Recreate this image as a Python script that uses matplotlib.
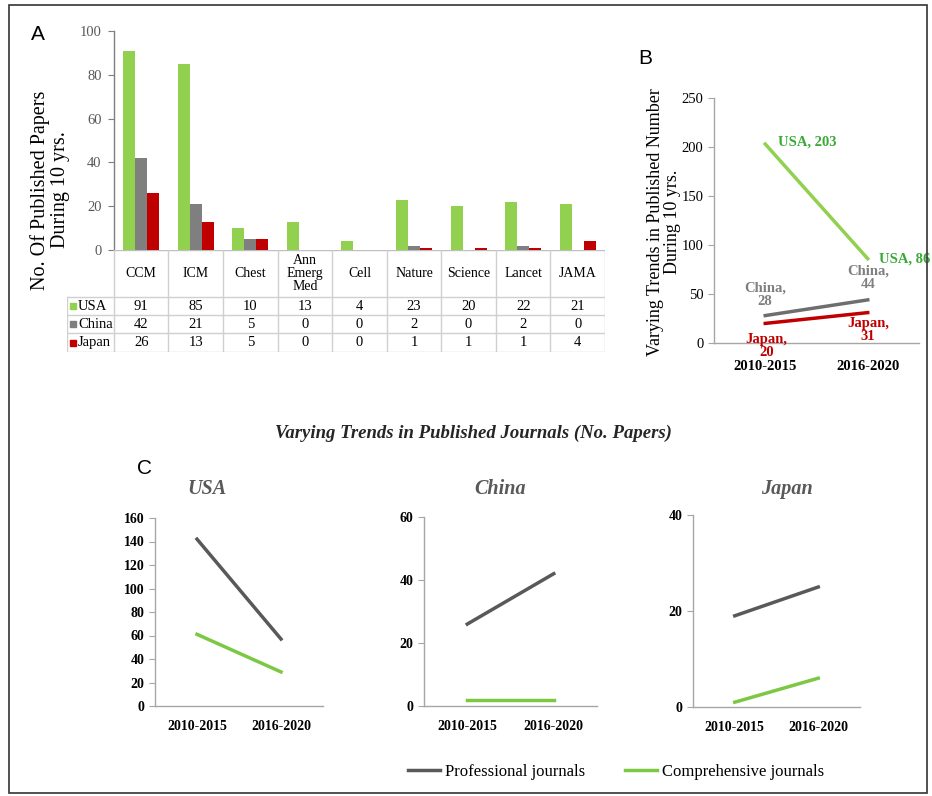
import matplotlib.pyplot as plt
from matplotlib.lines import Line2D
from matplotlib.patches import Rectangle

W, H = 932, 796

# panel A data
journals = ['CCM', 'ICM', 'Chest', 'Ann\nEmerg\nMed', 'Cell', 'Nature', 'Science', 'Lancet', 'JAMA']
usa = [91, 85, 10, 13, 4, 23, 20, 22, 21]
china = [42, 21, 5, 0, 0, 2, 0, 2, 0]
japan = [26, 13, 5, 0, 0, 1, 1, 1, 4]

# panel B data
periods = ['2010-2015', '2016-2020']
total_usa = [203, 86]
total_china = [28, 44]
total_japan = [20, 31]

# panel C data
prof_usa = [142, 57]
comp_usa = [61, 29]
prof_china = [26, 42]
comp_china = [2, 2]
prof_japan = [19, 25]
comp_japan = [1, 6]

GREEN = '#92d050'
GRAY = '#7f7f7f'
RED = '#c00000'
DGRAY = '#595959'
LGREEN = '#7cc843'
SPINE = '#a6a6a6'

plt.rcParams['font.family'] = ['Liberation Serif', 'DejaVu Serif']

fig = plt.figure(figsize=(W / 100, H / 100), dpi=100)


def px_axes(l, t, r, b):
    return fig.add_axes([l / W, 1 - b / H, (r - l) / W, (b - t) / H])


def fig_text(x, y, s, **kw):
    return fig.text(x / W, 1 - y / H, s, **kw)


def style(ax, color=SPINE):
    for s in ['top', 'right']:
        ax.spines[s].set_visible(False)
    for s in ['left', 'bottom']:
        ax.spines[s].set_color(color)
        ax.spines[s].set_linewidth(1)
    ax.tick_params(axis='y', length=4, color=color, direction='out')
    ax.tick_params(axis='x', length=0)


# frame
fig.patches.append(Rectangle((9 / W, 1 - 793 / H), 918 / W, 788 / H,
                             transform=fig.transFigure, fill=False,
                             ec='#333333', lw=1.2))

# ---------- Panel A ----------
axA = px_axes(114, 31, 605, 250)
x = list(range(len(journals)))
bw = 0.22
axA.bar([i - bw for i in x], usa, bw, color=GREEN)
axA.bar(x, china, bw, color=GRAY)
axA.bar([i + bw for i in x], japan, bw, color=RED)
axA.set_xlim(-0.5, 8.5)
axA.set_ylim(0, 100)
axA.set_yticks(range(0, 101, 20))
axA.set_xticks([])
style(axA, '#7f7f7f')
axA.spines['bottom'].set_visible(False)
axA.tick_params(axis='y', labelsize=10.5, labelcolor=DGRAY, pad=5)

# table under panel A
axT = px_axes(67, 250, 605, 352)
axT.set_xlim(-1.36, 8.5)
axT.set_ylim(102, 0)
axT.axis('off')
lc = '#d0d0d0'
rows = [0, 47, 65, 83, 102]
axT.plot([-0.5, 8.5], [0, 0], color='#bfbfbf', lw=1)
for yv in rows[1:]:
    axT.plot([-1.36, 8.5], [yv, yv], color=lc, lw=1)
for i in range(10):
    axT.plot([i - 0.5, i - 0.5], [0, 102], color=lc, lw=1)
axT.plot([-1.36, -1.36], [47, 102], color=lc, lw=1)
for i, name in enumerate(journals):
    axT.text(i, 23.5, name, ha='center', va='center', fontsize=10,
             linespacing=1.05)
series = [('USA', usa, GREEN), ('China', china, GRAY), ('Japan', japan, RED)]
for r, (label, vals, col) in enumerate(series):
    yc = (rows[r + 1] + rows[r + 2]) / 2
    axT.plot([-1.25], [yc], marker='s', ms=5, color=col, ls='none')
    axT.text(-1.16, yc, label, ha='left', va='center', fontsize=10.5)
    for i, v in enumerate(vals):
        axT.text(i, yc, str(v), ha='center', va='center', fontsize=10.5)

fig_text(50, 190, 'No. Of Published Papers\nDuring 10 yrs.', rotation=90,
         ha='center', va='center', fontsize=14.5, multialignment='center',
         linespacing=1.1)
fig_text(38, 34, 'A', fontsize=15, family='Liberation Sans', ha='center', va='center')

# ---------- Panel B ----------
axB = px_axes(714, 98, 919, 343)
xb = [0, 1]
axB.plot(xb, total_usa, color=GREEN, lw=2.5)
axB.plot(xb, total_china, color='#6e6e6e', lw=2.5)
axB.plot(xb, total_japan, color=RED, lw=2.5)
axB.set_xlim(-0.5, 1.5)
axB.set_ylim(0, 250)
axB.set_yticks(range(0, 251, 50))
axB.set_xticks(xb)
axB.set_xticklabels(periods, fontweight='bold')
style(axB)
axB.tick_params(axis='both', labelsize=10.5)
axB.tick_params(axis='x', pad=12)


def lab(ax, xy, s, dx, dy, col, ha):
    ax.annotate(s, xy=xy, xytext=(dx, dy), textcoords='offset pixels',
                ha=ha, va='center', color=col, fontsize=10.5, fontweight='bold',
                linespacing=1.0)


lab(axB, (0, total_usa[0]), 'USA, %d' % total_usa[0], 13, 2, '#3aa935', 'left')
lab(axB, (1, total_usa[1]), 'USA, %d' % total_usa[1], 11, 0, '#3aa935', 'left')
lab(axB, (0, total_china[0]), 'China,\n%d' % total_china[0], 0, 21, GRAY, 'center')
lab(axB, (1, total_china[1]), 'China,\n%d' % total_china[1], 0, 22, GRAY, 'center')
lab(axB, (0, total_japan[0]), 'Japan,\n%d' % total_japan[0], 1, -23, RED, 'center')
lab(axB, (1, total_japan[1]), 'Japan,\n%d' % total_japan[1], 0, -17, RED, 'center')

fig_text(664, 222, 'Varying Trends in Published Number\nDuring 10 yrs.', rotation=90,
         ha='center', va='center', fontsize=13, multialignment='center',
         linespacing=1.05)
fig_text(645, 58, 'B', fontsize=15, family='Liberation Sans', ha='center', va='center')

# ---------- Panel C ----------
fig_text(473, 433, 'Varying Trends in Published Journals (No. Papers)',
         ha='center', va='center', fontsize=13.5, fontweight='bold',
         style='italic', color='#262626')
fig_text(145, 468, 'C', fontsize=15, family='Liberation Sans', ha='center', va='center')

panels = [
    ('USA', prof_usa, comp_usa, (155, 518, 323, 706), 160, 20, 207),
    ('China', prof_china, comp_china, (424, 517, 597, 706), 60, 20, 500),
    ('Japan', prof_japan, comp_japan, (693, 515, 860, 707), 40, 20, 787),
]
for name, prof, comp, box, top, step, tx in panels:
    ax = px_axes(*box)
    ax.plot(xb, prof, color=DGRAY, lw=2.5)
    ax.plot(xb, comp, color=LGREEN, lw=2.5)
    ax.set_xlim(-0.5, 1.5)
    ax.set_ylim(0, top)
    ax.set_yticks(range(0, top + 1, step))
    ax.set_xticks(xb)
    ax.set_xticklabels(periods, fontweight='bold')
    for t in ax.get_yticklabels():
        t.set_fontweight('bold')
    style(ax)
    ax.tick_params(axis='both', labelsize=10)
    ax.tick_params(axis='x', pad=10)
    fig_text(tx, 489, name, ha='center', va='center', fontsize=14.5,
             fontweight='bold', style='italic', color=DGRAY)

handles = [Line2D([], [], color=DGRAY, lw=2.5),
           Line2D([], [], color=LGREEN, lw=2.5)]
fig.legend(handles, ['Professional journals', 'Comprehensive journals'],
           loc='center', bbox_to_anchor=(616 / W, 1 - 772 / H), ncol=2,
           frameon=False, fontsize=12, handlelength=1.9, handletextpad=0.3,
           columnspacing=2.4)

fig.savefig('out.png', dpi=100)
